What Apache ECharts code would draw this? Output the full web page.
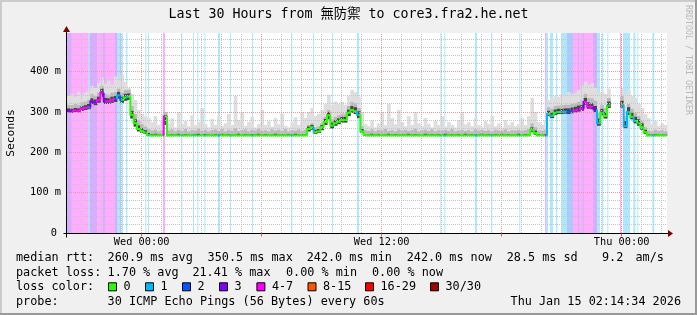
<!DOCTYPE html>
<html><head><meta charset="utf-8">
<script src="https://cdn.jsdelivr.net/npm/echarts@6/dist/echarts.min.js"></script>
<style>html,body{margin:0;padding:0;background:#f0f0f0}#c{width:697px;height:315px}</style>
</head><body><div id="c"></div><script>
// time base: minutes relative to Wed 00:00; one sample every 10 minutes
const START = -224, STEP = 10, END = 1576;
const Y_MAX = 496;
const xTickValues = [0, 720, 1440];
const xTickLabels = ['Wed 00:00', 'Wed 12:00', 'Thu 00:00'];
const yTickValues = [0, 100, 200, 300, 400];
const yTickLabels = ['0', '100 m', '200 m', '300 m', '400 m'];

// median rtt (ms) per sample
const median = [
303,302,304,303,308,310,312,
326,323,330,348,326,326,330,332,341,330,336,338,
293,272,258,253,249,243,
242,242,242,242,
289,
242,242,242,242,242,242,242,242,242,242,242,242,242,242,
242,242,242,242,242,242,242,242,242,242,242,242,242,242,
242,242,242,242,242,242,242,242,242,242,242,242,242,242,
258,262,250,252,262,275,292,266,272,276,280,280,298,305,302,293,252,
243,242,242,242,242,242,242,242,242,242,242,242,242,242,
242,242,242,242,242,242,242,242,242,242,242,242,242,242,
242,242,242,242,242,242,242,242,242,242,242,242,242,242,
242,242,242,242,242,242,242,242,
256,248,242,242,242,
295,290,298,300,300,301,300,302,304,306,308,325,314,313,306,272,298,290,316,
null,null,null,
318,265,300,288,278,272,262,250,
242,242,242,242,242,242,242
];
// smoke: lower quartile, upper quartile, 90th percentile, max ping (ms)
const smokeQ1 = [
299,298,300,299,303,305,307,
320,317,323,338,320,320,323,325,333,323,328,330,
284,264,252,248,246,242,
242,242,242,242,
268,
242,242,242,242,242,242,242,242,242,242,242,242,242,242,
242,242,242,242,242,242,242,242,242,242,242,242,242,242,
242,242,242,242,242,242,242,242,242,242,242,242,242,242,
252,256,246,248,255,268,282,259,266,270,274,274,290,298,295,285,248,
242,242,242,242,242,242,242,242,242,242,242,242,242,242,
242,242,242,242,242,242,242,242,242,242,242,242,242,242,
242,242,242,242,242,242,242,242,242,242,242,242,242,242,
242,242,242,242,242,242,242,242,
250,244,242,242,242,
290,285,293,295,295,296,295,297,299,301,303,318,308,307,300,266,292,284,310,
null,null,null,
311,260,293,282,272,266,256,246,
242,242,242,242,242,242,242
];
const smokeQ3 = [
309,308,310,309,315,317,320,
334,331,338,358,335,334,338,340,350,338,345,346,
303,282,267,260,255,248,
245,246,244,245,
292,
244,245,244,246,244,245,244,244,245,246,244,245,244,244,
245,244,246,244,245,244,244,246,244,245,244,245,244,246,
244,245,244,244,246,244,245,244,245,244,246,244,245,244,
264,268,256,258,268,283,300,274,280,284,288,288,306,315,312,302,258,
245,244,246,244,245,244,244,246,244,245,244,245,244,246,
244,245,244,244,246,244,245,244,245,244,246,244,245,244,
245,244,246,244,245,244,244,246,244,245,244,245,244,246,
244,245,244,244,246,244,245,244,
262,254,245,244,245,
303,299,306,308,308,309,309,311,313,316,318,335,324,322,315,284,308,300,326,
null,null,null,
328,278,312,298,288,282,272,256,
245,244,245,244,245,244,244
];
const smokeHi = [
318,317,320,318,325,326,330,
345,340,348,365,345,343,348,350,358,348,355,355,
315,295,280,270,264,258,
254,256,252,255,
300,
254,257,252,256,253,258,252,255,254,259,253,256,252,255,
257,253,258,252,256,254,260,253,255,257,252,256,254,258,
253,255,252,257,254,256,253,258,252,255,254,257,253,256,
268,272,262,264,272,288,305,282,288,292,296,295,315,325,322,310,265,
255,253,257,252,256,254,258,253,255,252,257,254,256,253,
255,258,252,254,256,253,257,252,255,254,256,253,258,252,
254,256,253,255,252,257,254,256,253,255,252,256,254,253,
257,252,255,254,256,253,255,258,
272,262,254,253,256,
312,308,315,316,317,318,318,320,322,325,328,345,335,334,328,298,318,310,335,
null,null,null,
340,290,320,308,298,290,278,262,
254,252,256,253,255,252,254
];
const smokeMax = [
340,345,338,350,342,348,352,
365,360,372,385,370,378,368,388,380,392,375,360,
345,330,305,295,290,285,
275,290,268,280,
300,
272,285,262,300,270,278,265,292,268,275,310,270,262,283,
268,290,265,272,295,268,340,280,300,266,275,288,262,270,
305,268,278,264,285,270,296,266,262,274,287,268,300,285,
300,310,290,295,305,320,343,318,326,320,325,318,340,355,350,338,300,
270,265,280,262,272,300,268,320,285,270,305,275,265,290,
268,300,272,265,285,270,262,278,268,290,264,275,268,262,
280,300,270,275,265,285,268,262,278,270,290,265,272,262,
280,268,275,265,270,285,268,290,
335,300,275,268,280,
330,335,340,338,345,342,350,345,348,355,365,375,368,372,360,348,350,345,358,
null,null,null,
360,345,355,340,335,320,310,295,
285,270,278,265,272,268,262
];
// packet loss periods: start minute, end minute, lost pings of 30
const lossFrom  = [-224,-210,-160,-155,-134,-116,-110,-80,-74,-65,-60,-47,11,19,64,119,154,167,188,229,265,331,448,514,571,646,896,908,1000,1048,1133,1210,1213,1225,1243,1259,1276,1294,1309,1312,1324,1327,1354,1366,1381,1397,1435,1444,1475,1487,1532];
const lossTo    = [-210,-160,-155,-134,-116,-110,-80,-74,-65,-62,-56,-43,14,22,70,122,157,170,191,235,268,334,452,517,574,652,899,911,1006,1052,1136,1213,1219,1234,1247,1276,1294,1309,1312,1324,1327,1354,1366,1375,1385,1400,1439,1465,1481,1490,1538];
const lossPings = [3,5,1,3,5,3,5,3,1,2,1,1,1,1,5,1,1,1,1,1,1,1,1,1,1,1,1,1,1,1,1,5,1,1,1,1,2,5,3,5,3,5,3,1,1,1,5,1,1,1,1];

const legendLabels = ['0','1','2','3','4-7','8-15','16-29','30/30'];
const lossColors = ['#26ff00','#00b8ff','#0059ff','#7e00ff','#ff00ff','#ff5500','#ff0000','#a10000'];

const MONO = "'DejaVu Sans Mono', 'Noto Sans CJK TC', monospace";
const lossCls = p => p <= 0 ? 0 : p <= 3 ? p : p <= 7 ? 4 : p <= 15 ? 5 : p <= 29 ? 6 : 7;
function hexA(hex, a) {
  const n = parseInt(hex.slice(1), 16);
  return 'rgba(' + (n >> 16) + ',' + ((n >> 8) & 255) + ',' + (n & 255) + ',' + a + ')';
}
function lossAt(t) {
  for (let k = 0; k < lossFrom.length; k++) if (t >= lossFrom[k] && t < lossTo[k]) return lossPings[k];
  return 0;
}

// build library data
const lossData = lossFrom.map((f, k) => [f, lossTo[k], lossPings[k]]);
const smokeData = [];
for (let i = 0; i < median.length - 1; i++) {
  if (smokeQ1[i] == null) continue;
  smokeData.push([START + i * STEP, smokeQ1[i], smokeQ3[i], smokeHi[i], smokeMax[i]]);
}
const medPieces = [];
for (let i = 0; i < median.length - 1; i++) {
  const v = median[i]; if (v == null) continue;
  const t0 = START + i * STEP, t1 = t0 + STEP;
  const cuts = [t0, t1];
  lossFrom.forEach((f, k) => { [f, lossTo[k]].forEach(c => { if (c > t0 && c < t1) cuts.push(c); }); });
  cuts.sort((a, b) => a - b);
  for (let j = 0; j < cuts.length - 1; j++) {
    const a = cuts[j], b = cuts[j + 1];
    const prev = (j === 0 && i > 0 && median[i - 1] != null) ? median[i - 1] : v;
    medPieces.push([a, b, v, prev, lossCls(lossAt((a + b) / 2))]);
  }
}
const gridData = [];
for (let m = Math.ceil(START / 60) * 60; m <= END; m += 60) gridData.push([m, m % 360 === 0 ? 1 : 0]);
for (let v = 20; v < Y_MAX; v += 20) gridData.push([v, v % 100 === 0 ? 3 : 2]);

const chart = echarts.init(document.getElementById('c'), null, { width: 697, height: 315 });
const crisp = x => Math.floor(x) + 0.5;

chart.setOption({
  backgroundColor: '#f0f0f0',
  animation: false,
  grid: { left: 67, top: 33, width: 600, height: 200, show: true, backgroundColor: '#ffffff', borderWidth: 0 },
  xAxis: {
    type: 'value', min: START, max: END,
    axisLine: { show: false }, axisTick: { show: false }, splitLine: { show: false },
    axisLabel: {
      customValues: xTickValues,
      formatter: v => xTickLabels[xTickValues.indexOf(v)] || '',
      fontFamily: MONO, fontSize: 10.3, color: '#000', margin: 4
    }
  },
  yAxis: {
    type: 'value', min: 0, max: Y_MAX,
    axisLine: { show: false }, axisTick: { show: false }, splitLine: { show: false },
    axisLabel: {
      customValues: yTickValues,
      formatter: v => v === 0 ? '{z|0}' : (yTickLabels[yTickValues.indexOf(v)] || ''),
      fontFamily: MONO, fontSize: 10.3, color: '#000', margin: 6,
      rich: { z: { fontFamily: MONO, fontSize: 10.3, color: '#000', padding: [0, 4, 0, 0] } }
    }
  },
  series: [
    { // loss background bars
      type: 'custom', z: 1, silent: true, data: lossData,
      renderItem: (p, api) => {
        const a = api.coord([api.value(0), Y_MAX]), b = api.coord([api.value(1), 0]);
        return { type: 'rect', shape: { x: a[0], y: a[1], width: Math.max(1, b[0] - a[0]), height: b[1] - a[1] },
          style: { fill: hexA(lossColors[lossCls(api.value(2))], 0.32) } };
      }
    },
    { // smoke
      type: 'custom', z: 2, silent: true, data: smokeData,
      renderItem: (p, api) => {
        const t = api.value(0);
        const w = api.size([STEP, 0])[0] + 0.4;
        const band = (lo, hi, fill) => {
          const a = api.coord([t, hi]), b = api.coord([t, lo]);
          return { type: 'rect', shape: { x: a[0], y: a[1], width: w, height: Math.max(0, b[1] - a[1]) }, style: { fill } };
        };
        return { type: 'group', children: [
          band(api.value(1), api.value(4), '#dedede'),
          band(api.value(1), api.value(3), '#bababa'),
          band(api.value(1), api.value(2), '#454545')
        ] };
      }
    },
    { // grid lines
      type: 'custom', z: 3, silent: true, data: gridData,
      renderItem: (p, api) => {
        const pos = api.value(0), kind = api.value(1);
        let shape;
        if (kind < 2) {
          const x = crisp(api.coord([pos, 0])[0]);
          shape = { x1: x, y1: api.coord([pos, 0])[1], x2: x, y2: api.coord([pos, Y_MAX])[1] };
        } else {
          const y = crisp(api.coord([START, pos])[1]);
          shape = { x1: api.coord([START, pos])[0], y1: y, x2: api.coord([END, pos])[0], y2: y };
        }
        const major = kind === 1 || kind === 3;
        return { type: 'line', shape, style: { stroke: major ? '#e39a9a' : '#c4c4c4', lineWidth: 1, lineDash: [1, 1] } };
      }
    },
    { // median rtt
      type: 'custom', z: 4, silent: true, data: medPieces,
      renderItem: (p, api) => {
        const a = api.value(0), b = api.value(1), v = api.value(2), pv = api.value(3);
        return { type: 'polyline', shape: { points: [api.coord([a, pv]), api.coord([a, v]), api.coord([b, v])] },
          style: { stroke: lossColors[api.value(4)], lineWidth: 2, fill: null } };
      }
    }
  ]
});

// decorations computed through the grid's scales
const px = (x, y) => chart.convertToPixel({ gridIndex: 0 }, [x, y]);
const o = px(START, 0), xr = px(END, 0), yt = px(START, Y_MAX);
const ax = crisp(o[0] - 1), ay = crisp(o[1]);
const g = [];
// 3D frame like rrdtool (shade A top/left, shade B bottom/right)
g.push({ type: 'rect', shape: { x: 0, y: 0, width: 697, height: 2 }, style: { fill: '#cbcbcb' }, z: 9 });
g.push({ type: 'rect', shape: { x: 0, y: 0, width: 2, height: 315 }, style: { fill: '#cbcbcb' }, z: 9 });
g.push({ type: 'rect', shape: { x: 0, y: 313, width: 697, height: 2 }, style: { fill: '#999999' }, z: 9 });
g.push({ type: 'rect', shape: { x: 695, y: 0, width: 2, height: 315 }, style: { fill: '#999999' }, z: 9 });
g.push({ type: 'line', shape: { x1: ax - 3, y1: ay, x2: xr[0] + 1, y2: ay }, style: { stroke: '#000', lineWidth: 1 }, z: 10 });
g.push({ type: 'line', shape: { x1: ax, y1: ay + 4, x2: ax, y2: yt[1] - 1 }, style: { stroke: '#000', lineWidth: 1 }, z: 10 });
g.push({ type: 'polygon', shape: { points: [[xr[0] + 1, ay - 3.5], [xr[0] + 6, ay], [xr[0] + 1, ay + 3.5]] }, style: { fill: '#800000' }, z: 10 });
g.push({ type: 'polygon', shape: { points: [[ax - 3.5, yt[1] - 1], [ax, yt[1] - 7], [ax + 3.5, yt[1] - 1]] }, style: { fill: '#800000' }, z: 10 });
gridData.forEach(d => {
  if (d[1] === 1) { const x = crisp(px(d[0], 0)[0]); g.push({ type: 'line', shape: { x1: x, y1: ay, x2: x, y2: ay + 3 }, style: { stroke: '#e06060' }, z: 10 }); }
});
const T = (text, x, y, opt) => Object.assign({ type: 'text', x, y, z: 10, style: Object.assign({ text, fontFamily: MONO, fontSize: 11.8, fill: '#000', align: 'left', verticalAlign: 'middle' }, opt || {}) });
g.push(T('Last 30 Hours from 無防禦 to core3.fra2.he.net', 348.5, 14.5, { fontSize: 13.3, align: 'center' }));
g.push(Object.assign(T('Seconds', 11, 133, { fontSize: 11.3, align: 'center' }), { rotation: Math.PI / 2 }));
g.push(Object.assign(T('RRDTOOL / TOBI OETIKER', 688, 5, { fontSize: 8.3, fill: '#b8b8b8', align: 'left' }), { rotation: -Math.PI / 2 }));
const L1 = 258, L2 = 272.7, L3 = 287.3, L4 = 302;
g.push(T('median rtt:', 16, L1));
[['260.9 ms avg', 107.6], ['350.5 ms max', 207.6], ['242.0 ms min', 306.7], ['242.0 ms now', 406.7], ['28.5 ms sd', 506.7], ['9.2', 602], ['am/s', 635.5]]
  .forEach(s => g.push(T(s[0], s[1], L1)));
g.push(T('packet loss:', 16, L2));
[['1.70 % avg', 107.6], ['21.41 % max', 192.4], ['0.00 % min', 286], ['0.00 % now', 372]].forEach(s => g.push(T(s[0], s[1], L2)));
g.push(T('loss color:', 16, L3));
const boxX = [108, 145, 182, 219, 256.4, 307.5, 365, 430];
legendLabels.forEach((lab, k) => {
  g.push({ type: 'rect', shape: { x: boxX[k] + 0.5, y: L3 - 4.5, width: 8, height: 8 }, style: { fill: lossColors[k], stroke: '#000', lineWidth: 1 }, z: 10 });
  g.push(T(lab, boxX[k] + 15.5, L3));
});
g.push(T('probe:', 16, L4));
g.push(T('30 ICMP Echo Pings (56 Bytes) every 60s', 107.6, L4));
g.push(T('Thu Jan 15 02:14:34 2026', 681, L4, { align: 'right' }));
chart.setOption({ graphic: g });
</script></body></html>
